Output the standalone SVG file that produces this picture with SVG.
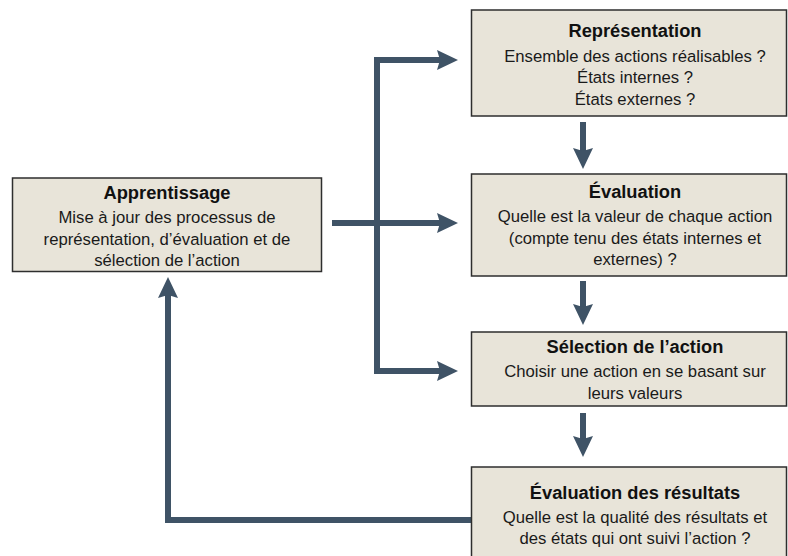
<svg xmlns="http://www.w3.org/2000/svg" width="788" height="556" viewBox="0 0 788 556">
  <style>
    .box { fill: #E8E4D9; stroke: #2E2E2E; stroke-width: 1.5; }
    .title { font-family: "Liberation Sans", Arial, sans-serif; font-size: 18.3px; font-weight: bold; fill: #111111; text-anchor: middle; }
    .body { font-family: "Liberation Sans", Arial, sans-serif; font-size: 16.7px; fill: #1A1A1A; text-anchor: middle; }
    .link { fill: none; stroke: #3F5366; stroke-width: 6; stroke-linejoin: miter; stroke-linecap: butt; }
  </style>
  <defs>
    <marker id="head" markerUnits="userSpaceOnUse" viewBox="-1 -11 24 22" markerWidth="24" markerHeight="22" refX="4" refY="0" orient="auto">
      <path d="M0,-10 L21,0 L0,10 L3,0 Z" fill="#3F5366"/>
    </marker>
  </defs>

  <rect width="788" height="556" fill="#FFFFFF"/>

  <!-- connectors -->
  <g id="connectors">
    <path class="link" d="M377 371 V60 H441" marker-end="url(#head)"/>
    <path class="link" d="M374 371 H441" marker-end="url(#head)"/>
    <path class="link" d="M332 223 H441" marker-end="url(#head)"/>
    <path class="link" d="M583 122 V152" marker-end="url(#head)"/>
    <path class="link" d="M583 281 V308" marker-end="url(#head)"/>
    <path class="link" d="M583 413 V440" marker-end="url(#head)"/>
    <path class="link" d="M471 520 H168 V294" marker-end="url(#head)"/>
  </g>

  <g id="apprentissage">
    <rect class="box" x="12.5" y="178" width="309" height="93.5"/>
    <text class="title" x="167" y="199">Apprentissage</text>
    <text class="body" x="167" y="223">Mise à jour des processus de</text>
    <text class="body" x="167" y="244.5">représentation, d’évaluation et de</text>
    <text class="body" x="167" y="266">sélection de l’action</text>
  </g>

  <g id="representation">
    <rect class="box" x="471.5" y="10" width="315" height="106"/>
    <text class="title" x="635" y="37">Représentation</text>
    <text class="body" x="635" y="61.5">Ensemble des actions réalisables ?</text>
    <text class="body" x="635" y="83">États internes ?</text>
    <text class="body" x="635" y="104.5">États externes ?</text>
  </g>

  <g id="evaluation">
    <rect class="box" x="471.5" y="174" width="315" height="102"/>
    <text class="title" x="635" y="198">Évaluation</text>
    <text class="body" x="635" y="222">Quelle est la valeur de chaque action</text>
    <text class="body" x="635" y="243.5">(compte tenu des états internes et</text>
    <text class="body" x="635" y="265">externes) ?</text>
  </g>

  <g id="selection">
    <rect class="box" x="471.5" y="332" width="315" height="74"/>
    <text class="title" x="635" y="353">Sélection de l’action</text>
    <text class="body" x="635" y="376.5">Choisir une action en se basant sur</text>
    <text class="body" x="635" y="398.5">leurs valeurs</text>
  </g>

  <g id="resultats">
    <rect class="box" x="471.5" y="467" width="315" height="95"/>
    <text class="title" x="635" y="499">Évaluation des résultats</text>
    <text class="body" x="635" y="522.5">Quelle est la qualité des résultats et</text>
    <text class="body" x="635" y="544">des états qui ont suivi l’action ?</text>
  </g>
</svg>
